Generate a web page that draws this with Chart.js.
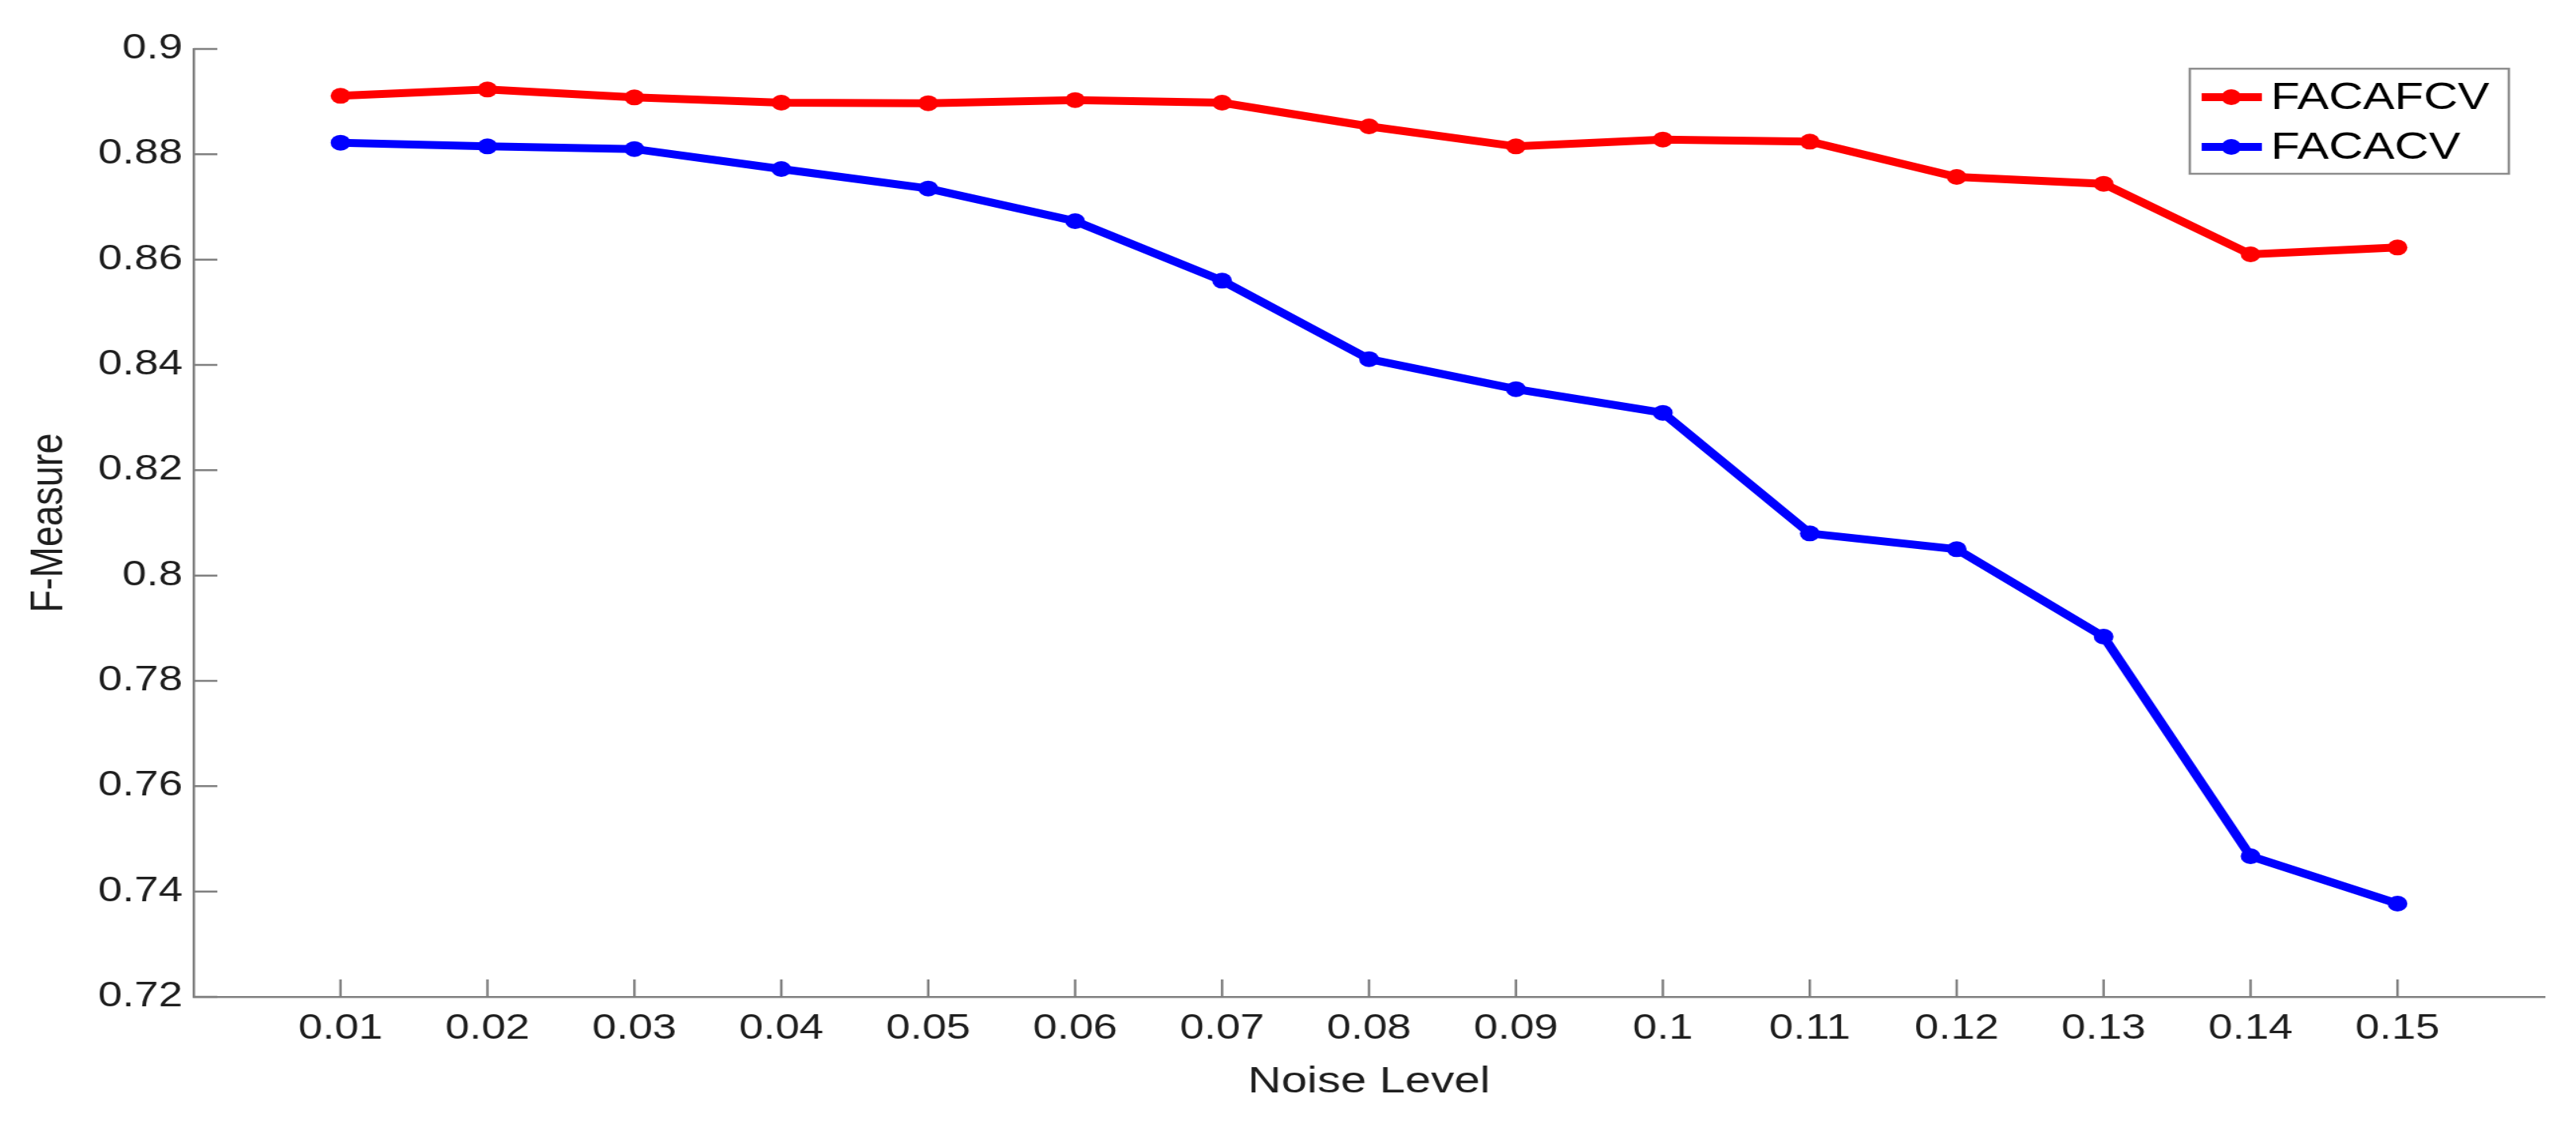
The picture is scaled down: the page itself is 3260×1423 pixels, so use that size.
<!DOCTYPE html>
<html>
<head>
<meta charset="utf-8">
<title>F-Measure vs Noise Level</title>
<script src="https://cdn.jsdelivr.net/npm/chart.js@4.4.1/dist/chart.umd.min.js"></script>
<style>
  html, body { margin: 0; padding: 0; background: #fff; overflow: hidden; }
  /* the source figure is stretched sideways, so draw narrow and widen */
  #wrap { width: 2608px; height: 1423px; transform: scaleX(1.25); transform-origin: 0 0; }
</style>
</head>
<body>
<div id="wrap"><canvas id="chart" width="2608" height="1423"></canvas></div>
<script>
// Datos
const noiseLevels = [0.01, 0.02, 0.03, 0.04, 0.05, 0.06, 0.07, 0.08, 0.09, 0.1, 0.11, 0.12, 0.13, 0.14, 0.15];
const xTickLabels = ['0.01', '0.02', '0.03', '0.04', '0.05', '0.06', '0.07', '0.08', '0.09', '0.1', '0.11', '0.12', '0.13', '0.14', '0.15'];
const yTickValues = [0.72, 0.74, 0.76, 0.78, 0.8, 0.82, 0.84, 0.86, 0.88, 0.9];
const yTickLabels = ['0.72', '0.74', '0.76', '0.78', '0.8', '0.82', '0.84', '0.86', '0.88', '0.9'];
const facafcv = [0.8911, 0.8923, 0.8908, 0.8898, 0.8897, 0.8903, 0.8898, 0.8853, 0.8815, 0.8828, 0.8824, 0.8757, 0.8744, 0.8610, 0.8623];
const facacv = [0.8822, 0.8815, 0.8810, 0.8772, 0.8735, 0.8673, 0.8560, 0.8411, 0.8354, 0.8309, 0.8080, 0.8050, 0.7884, 0.7467, 0.7377];

const axisColor = '#7f7f7f';
const textColor = '#1e1e1e';

Chart.defaults.font.family = "'Liberation Sans', Arial, Helvetica, sans-serif";
Chart.defaults.color = textColor;

// ticks pointing into the plot, like the original figure
const inwardTicks = {
  id: 'inwardTicks',
  afterDatasetsDraw(chart) {
    const {ctx, chartArea, scales: {x, y}} = chart;
    ctx.save();
    ctx.strokeStyle = axisColor;
    ctx.lineWidth = 2.5;
    ctx.beginPath();
    x.ticks.forEach(t => {
      const px = x.getPixelForValue(t.value);
      ctx.moveTo(px, chartArea.bottom);
      ctx.lineTo(px, chartArea.bottom - 22);
    });
    y.ticks.forEach(t => {
      const py = y.getPixelForValue(t.value);
      ctx.moveTo(chartArea.left, py);
      ctx.lineTo(chartArea.left + 24, py);
    });
    ctx.stroke();
    ctx.restore();
  }
};

// legend box in the upper right corner
const boxLegend = {
  id: 'boxLegend',
  afterDraw(chart) {
    const {ctx, chartArea} = chart;
    const w = 323, h = 133;
    const left = chartArea.right - 36 - w;
    const top = chartArea.top + 25;
    ctx.save();
    ctx.fillStyle = '#fff';
    ctx.fillRect(left, top, w, h);
    ctx.strokeStyle = '#8c8c8c';
    ctx.lineWidth = 2.5;
    ctx.strokeRect(left, top, w, h);
    ctx.font = "48px 'Liberation Sans', Arial, sans-serif";
    ctx.textBaseline = 'middle';
    chart.data.datasets.forEach((ds, i) => {
      const cy = top + 36 + i * 63;
      ctx.strokeStyle = ds.borderColor;
      ctx.lineWidth = ds.borderWidth;
      ctx.beginPath();
      ctx.moveTo(left + 12, cy);
      ctx.lineTo(left + 73, cy);
      ctx.stroke();
      ctx.fillStyle = ds.borderColor;
      ctx.beginPath();
      ctx.arc(left + 42, cy, ds.pointRadius, 0, Math.PI * 2);
      ctx.fill();
      ctx.fillStyle = '#000';
      ctx.fillText(ds.label, left + 82, cy + 2);
    });
    ctx.restore();
  }
};

function lineSet(label, values, color) {
  return {
    label: label,
    data: noiseLevels.map((x, i) => ({x: x, y: values[i]})),
    borderColor: color,
    backgroundColor: color,
    borderWidth: 10,
    pointRadius: 10,
    pointBorderWidth: 0,
    pointBackgroundColor: color,
    tension: 0,
    fill: false
  };
}

new Chart(document.getElementById('chart'), {
  type: 'line',
  data: {
    datasets: [
      lineSet('FACAFCV', facafcv, '#ff0000'),
      lineSet('FACACV', facacv, '#0000ff')
    ]
  },
  options: {
    responsive: false,
    animation: false,
    devicePixelRatio: 1,
    layout: { padding: { left: 0, right: 32, top: 62, bottom: 0 } },
    plugins: {
      legend: { display: false },
      tooltip: { enabled: false }
    },
    scales: {
      x: {
        type: 'linear',
        min: 0,
        max: 0.16,
        afterBuildTicks: scale => { scale.ticks = noiseLevels.map(v => ({value: v})); },
        afterFit: scale => { scale.height = 161; },
        grid: { display: false, drawTicks: false },
        border: { display: true, color: axisColor, width: 2.5 },
        ticks: {
          autoSkip: false,
          maxRotation: 0,
          padding: 14,
          font: { size: 44 },
          callback: (v, i) => xTickLabels[i]
        },
        title: {
          display: true,
          text: 'Noise Level',
          font: { size: 47 },
          padding: { top: 0, bottom: 25 }
        }
      },
      y: {
        min: 0.72,
        max: 0.9,
        afterBuildTicks: scale => { scale.ticks = yTickValues.map(v => ({value: v})); },
        afterFit: scale => { scale.width = 196; },
        grid: { display: false, drawTicks: false },
        border: { display: true, color: axisColor, width: 2.5 },
        ticks: {
          padding: 11,
          font: { size: 44 },
          callback: (v, i) => yTickLabels[i]
        },
        title: {
          display: true,
          text: 'F-Measure',
          font: { size: 47 },
          padding: { top: 22, bottom: 0 }
        }
      }
    }
  },
  plugins: [inwardTicks, boxLegend]
});
</script>
</body>
</html>
